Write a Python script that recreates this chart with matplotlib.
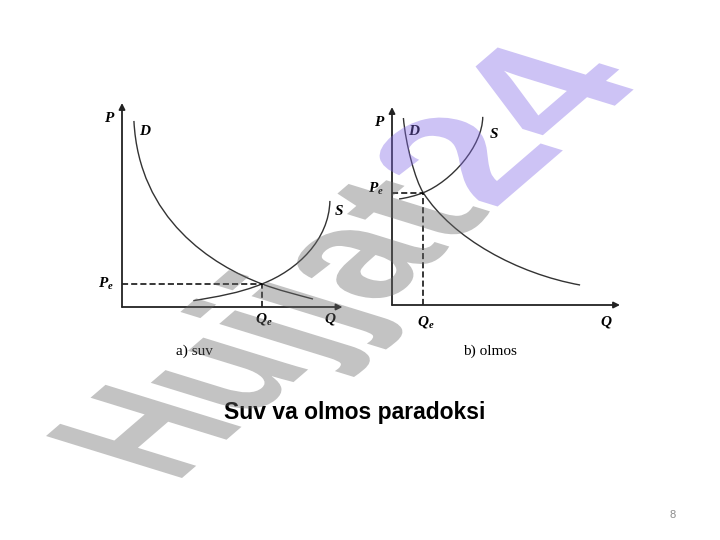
import numpy as np
import matplotlib
matplotlib.use("Agg")
import matplotlib.pyplot as plt
from matplotlib.path import Path
from matplotlib.patches import PathPatch
from matplotlib.textpath import TextPath, TextToPath
from matplotlib.font_manager import FontProperties

plt.rcParams['mathtext.fontset'] = 'custom'
plt.rcParams['mathtext.it'] = 'Liberation Serif:bold:italic'
plt.rcParams['mathtext.rm'] = 'Liberation Serif:bold'

# bezier nodes (Q, P): start, ctrl, ctrl, equilibrium, ctrl, ctrl, end
suv_demand = [(0.53, 9.12), (0.75, 4.3), (4.02, 2.05), (6.22, 1.13), (6.97, 0.815), (7.74, 0.615), (8.49, 0.39)]
suv_supply = [(3.17, 0.31), (4.2, 0.5), (5.22, 0.68), (6.22, 1.13), (7.8, 1.8), (9.2, 3.3), (9.24, 5.2)]
suv_eq = (6.22, 1.13)

olmos_demand = [(0.50, 9.54), (0.6, 8.2), (1.02, 6.36), (1.37, 5.73), (2.67, 3.39), (5.5, 1.6), (8.25, 1.02)]
olmos_supply = [(0.31, 5.41), (0.6, 5.45), (1.05, 5.58), (1.37, 5.73), (2.6, 6.3), (3.97, 8.1), (3.98, 9.6)]
olmos_eq = (1.37, 5.73)

caption = "Suv va olmos paradoksi"
panel_titles = ["a) suv", "b) olmos"]
watermark = ["Hujjat", "24"]
wm_colors = ['#696969', '#8269e6']

fig = plt.figure(figsize=(7.2, 5.4), dpi=100)
fig.patch.set_facecolor('white')

lab = dict(fontsize=11, color='black', ha='center', va='center')
codes = [Path.MOVETO] + [Path.CURVE4] * 6


def draw_panel(ax, demand, supply, eq, xtip, ytip, labpos):
    ax.set_xlim(0, 10)
    ax.set_ylim(0, 10)
    ax.axis('off')
    ax.patch.set_alpha(0)
    arr = dict(arrowstyle='-|>', lw=1.3, color='#222222', mutation_scale=9, shrinkA=0, shrinkB=0)
    ax.annotate('', xy=(0, ytip), xytext=(0, 0), arrowprops=arr, annotation_clip=False)
    ax.annotate('', xy=(xtip, 0), xytext=(0, 0), arrowprops=arr, annotation_clip=False)
    for pts in (demand, supply):
        ax.add_patch(PathPatch(Path(pts, codes), fill=False, edgecolor='#333333', lw=1.0, clip_on=False))
    ax.plot([0, eq[0]], [eq[1], eq[1]], color='black', lw=1.1, ls=(0, (4, 2)), clip_on=False)
    ax.plot([eq[0], eq[0]], [0, eq[1]], color='black', lw=1.1, ls=(0, (4, 2)), clip_on=False)
    for s, (x, y) in labpos.items():
        ax.text(x, y, s, **lab)


ax1 = fig.add_axes([122 / 720, 233 / 540, 225 / 720, 204 / 540])
draw_panel(ax1, suv_demand, suv_supply, suv_eq, 9.8, 10.0,
           {'$P$': (-0.55, 9.3), '$D$': (1.05, 8.65), '$S$': (9.65, 4.75),
            '$P_e$': (-0.7, 1.13), '$Q_e$': (6.3, -0.6), '$Q$': (9.25, -0.6)})
ax1.text(3.2, -2.15, panel_titles[0], fontsize=11, family='Liberation Serif', ha='center', va='center')

ax2 = fig.add_axes([392 / 720, 235 / 540, 228 / 720, 196 / 540])
draw_panel(ax2, olmos_demand, olmos_supply, olmos_eq, 10.0, 10.1,
           {'$P$': (-0.55, 9.35), '$D$': (0.98, 8.9), '$S$': (4.45, 8.75),
            '$P_e$': (-0.7, 5.9), '$Q_e$': (1.5, -0.85), '$Q$': (9.4, -0.85)})
ax2.text(4.3, -2.35, panel_titles[1], fontsize=11, family='Liberation Serif', ha='center', va='center')

fig.text(355 / 720, 1 - 412 / 540, caption, fontsize=16.5, fontweight='bold',
         family='Liberation Sans', ha='center', va='center')
fig.text(673 / 720, 1 - 515 / 540, "8", fontsize=8, color='#8c8c8c',
         family='Liberation Sans', ha='center', va='center')

# watermark: slanted text in perspective, mapped by baseline start/end and "up" vector (fig pixels)
fp = FontProperties(family='Liberation Sans', weight='bold', size=100)
w_first = TextToPath().get_text_width_height_descent(watermark[0], fp, ismath=False)[0]
paths = [TextPath((0, 0), watermark[0], prop=fp, size=100),
         TextPath((w_first, 0), watermark[1], prop=fp, size=100)]
allv = np.vstack([p.vertices[p.codes != Path.CLOSEPOLY] for p in paths])
xmin, xmax = allv[:, 0].min(), allv[:, 0].max()
hp = TextPath((0, 0), "H", prop=fp, size=100)
cap = hp.vertices[:, 1].max()
P0 = np.array([182.0, 62.0])
Vb = np.array([465.0, 400.0])
Vu = np.array([-136.0, 42.0])
k = 0.2
for p, c in zip(paths, wm_colors):
    v = p.vertices
    t = (v[:, 0] - xmin) / (xmax - xmin)
    t = t + k * t * (t - 1)
    u = v[:, 1] / cap
    xy = P0 + t[:, None] * Vb + u[:, None] * Vu
    xy = xy / np.array([720.0, 540.0])
    fig.add_artist(PathPatch(Path(xy, p.codes), transform=fig.transFigure,
                             facecolor=c, edgecolor='none', alpha=0.4, zorder=10))

fig.savefig("out.png", dpi=100)
